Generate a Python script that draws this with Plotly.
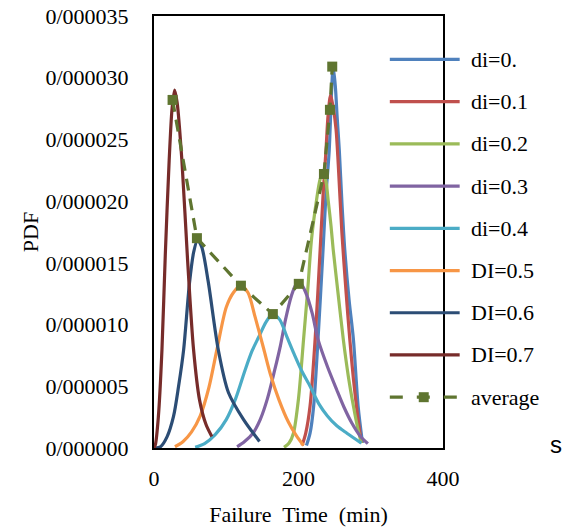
import plotly.graph_objects as go

# ---- data (PDF values in units of 1e-6) ----
names = ["di=0.", "di=0.1", "di=0.2", "di=0.3", "di=0.4", "DI=0.5", "DI=0.6", "DI=0.7"]
colors = ["#4F81BD", "#C0504D", "#9BBB59", "#8064A2", "#4BACC6", "#F79646", "#2C4D75", "#772C2A"]

x_di0 = [211, 216, 221, 227, 234, 238, 242.5, 245.5, 248, 251, 253.5, 256.5, 260, 264, 270, 276, 282.5, 288.6]
y_di0 = [0.2, 1.2, 3.4, 8.8, 16.1, 20.5, 24.1, 28.5, 30.9, 29.3, 26.8, 24.1, 20.0, 16.1, 12.0, 8.8, 3.4, 0.4]

x_di1 = [205, 210, 216, 223, 230, 234, 238, 241, 244.4, 248, 252, 255, 260, 266, 271, 276, 281, 287]
y_di1 = [0.2, 1.2, 3.4, 8.8, 16.1, 20.5, 24.1, 27.0, 28.6, 27.6, 25.8, 23.0, 17.5, 12.5, 8.8, 5.6, 3.0, 0.4]

x_di2 = [180, 187, 193, 200, 207, 213, 218, 225, 230, 234, 238, 241, 245, 248, 255, 262, 269, 276, 282, 287]
y_di2 = [0.05, 0.4, 1.2, 4.0, 8.8, 13.0, 16.9, 20.1, 21.8, 22.3, 21.6, 20.1, 18.0, 16.1, 12.4, 8.8, 5.8, 3.4, 1.6, 0.4]

x_di3 = [115, 125, 137, 147, 157, 167, 175, 182, 190, 197, 202, 210, 219, 227, 240, 253, 263, 274, 285, 296]
y_di3 = [0.1, 0.5, 1.2, 2.3, 4.0, 6.3, 8.3, 10.4, 12.3, 13.3, 13.4, 12.6, 10.9, 8.8, 6.6, 4.7, 3.3, 2.0, 1.0, 0.35]

x_di4 = [57, 70, 85, 100, 113, 126, 136, 145, 155, 164, 174, 184, 194, 204, 216, 228, 240, 253, 267, 287]
y_di4 = [0.05, 0.35, 1.1, 2.3, 4.0, 6.3, 7.9, 9.0, 10.2, 10.85, 10.4, 9.0, 7.6, 6.3, 5.0, 3.6, 2.6, 1.8, 1.2, 0.4]

x_di5 = [29, 40, 52, 64, 76, 87, 100, 110, 120, 130, 140, 152, 161, 173, 186, 197, 207]
y_di5 = [0.1, 0.5, 1.3, 2.6, 4.9, 7.95, 11.4, 12.6, 13.15, 12.6, 10.6, 8.0, 6.0, 3.9, 2.1, 1.0, 0.2]

x_di6 = [2, 9, 18, 27, 34, 41, 49, 55, 60.3, 66, 75, 89, 103, 124, 146]
y_di6 = [0.0, 0.1, 0.9, 2.56, 5.0, 7.95, 13.3, 15.9, 16.85, 16.3, 13.5, 7.95, 4.5, 2.3, 0.53]

x_di7 = [0, 2, 6, 11, 15.6, 21, 25, 28.5, 32, 38.6, 46.5, 54.7, 63, 72, 80]
y_di7 = [0.0, 0.3, 2.5, 7.95, 15.6, 23.3, 27.5, 29.0, 28.0, 23.3, 15.2, 8.0, 3.9, 1.9, 0.94]

x_avg = [25.7, 59.4, 120.3, 164.5, 200.4, 235.2, 243.5, 246.7]
y_avg = [28.2, 17.0, 13.15, 10.85, 13.3, 22.2, 27.4, 30.9]

xs = [x_di0, x_di1, x_di2, x_di3, x_di4, x_di5, x_di6, x_di7]
ys = [y_di0, y_di1, y_di2, y_di3, y_di4, y_di5, y_di6, y_di7]

y_tickvals = [0, 5, 10, 15, 20, 25, 30, 35]
y_ticktext = ["0/000000", "0/000005", "0/000010", "0/000015",
              "0/000020", "0/000025", "0/000030", "0/000035"]
x_tickvals = [0, 200, 400]
x_ticktext = ["0", "200", "400"]

avg_color = "#5F7530"
FONT = "Liberation Serif, Times New Roman, serif"

fig = go.Figure()
for n, c, x, y in zip(names, colors, xs, ys):
    fig.add_trace(go.Scatter(x=x, y=y, name=n, mode="lines",
                             line=dict(color=c, width=3.2, shape="spline", smoothing=0.8),
                             showlegend=False))
fig.add_trace(go.Scatter(x=x_avg, y=y_avg, name="average", mode="lines+markers",
                         line=dict(color=avg_color, width=3.2, dash="12px,8px"),
                         marker=dict(symbol="square", size=10, color=avg_color),
                         showlegend=False))

# ---- manual legend (paper coordinates) ----
L, R, T, B = 153.7, 443.3, 15.5, 448.3
W, H = 568, 531
def px2paper_x(px):
    return (px - L) / (R - L)
def py2paper_y(py):
    return (B - py) / (B - T)

legend_names = names + ["average"]
legend_colors = colors + [avg_color]
shapes = []
annotations = []
for i, (n, c) in enumerate(zip(legend_names, legend_colors)):
    py = 59 + 42.3 * i
    yp = py2paper_y(py)
    if n == "average":
        shapes.append(dict(type="line", xref="paper", yref="paper",
                           x0=px2paper_x(390), x1=px2paper_x(460), y0=yp, y1=yp,
                           line=dict(color=c, width=3.2, dash="13px,14px")))
        shapes.append(dict(type="rect", xref="paper", yref="paper",
                           x0=px2paper_x(419), x1=px2paper_x(429),
                           y0=py2paper_y(py + 5), y1=py2paper_y(py - 5),
                           line=dict(width=0), fillcolor=c))
    else:
        shapes.append(dict(type="line", xref="paper", yref="paper",
                           x0=px2paper_x(390), x1=px2paper_x(460), y0=yp, y1=yp,
                           line=dict(color=c, width=3.2)))
    annotations.append(dict(xref="paper", yref="paper", x=px2paper_x(469), y=yp,
                            text=n, showarrow=False, xanchor="left", yanchor="middle",
                            font=dict(family=FONT, size=22, color="black")))

annotations.append(dict(xref="paper", yref="paper", x=px2paper_x(557), y=py2paper_y(445),
                        text="s", showarrow=False, xanchor="center", yanchor="middle",
                        font=dict(family="Liberation Sans, Arial, sans-serif", size=24, color="black")))

fig.update_layout(
    width=W, height=H,
    margin=dict(l=L, r=W - R, t=T, b=H - B, autoexpand=False),
    paper_bgcolor="white", plot_bgcolor="white",
    font=dict(family=FONT, size=22, color="black"),
    shapes=shapes, annotations=annotations,
    xaxis=dict(range=[0, 400], tickvals=x_tickvals, ticktext=x_ticktext,
               showgrid=False, zeroline=False, showline=True, linecolor="black",
               linewidth=2, mirror=True, ticks="", ticklabelstandoff=10,
               title=dict(text="Failure\u00a0 Time\u00a0 (min)", standoff=16,
                          font=dict(family=FONT, size=22))),
    yaxis=dict(range=[0, 35], tickvals=y_tickvals, ticktext=y_ticktext,
               showgrid=False, zeroline=False, showline=True, linecolor="black",
               linewidth=2, mirror=True, ticks="", ticklabelstandoff=19,
               title=dict(text="PDF", standoff=1, font=dict(family=FONT, size=22))),
)

fig.write_html("out.html", config={"displayModeBar": False},
               post_script="document.body.style.margin='0';document.body.style.overflow='hidden';")
